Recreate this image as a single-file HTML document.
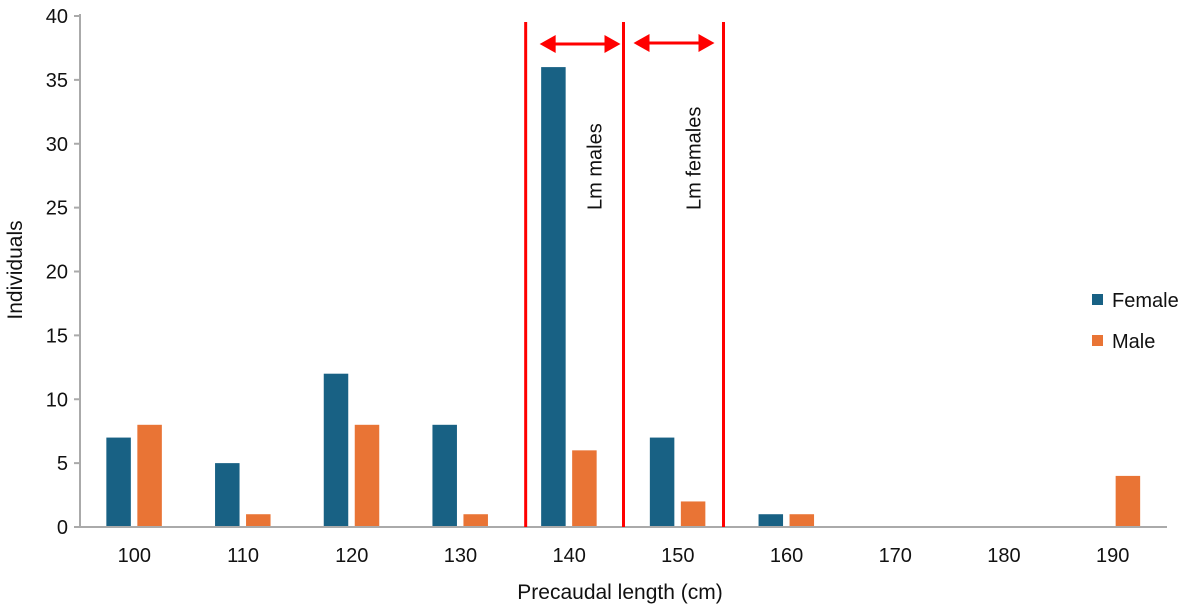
<!DOCTYPE html>
<html><head><meta charset="utf-8"><style>
body{margin:0;background:#fff;font-family:"Liberation Sans",Arial,sans-serif}
</style></head><body>
<svg id="c" width="1197" height="611" xmlns="http://www.w3.org/2000/svg" font-family="Liberation Sans, Arial, sans-serif"></svg>
<script>
const categories=["100","110","120","130","140","150","160","170","180","190"];
const female=[7,5,12,8,36,7,1,0,0,0];
const male=[8,1,8,1,6,2,1,0,0,4];
const yTicks=[0,5,10,15,20,25,30,35,40];
const lmLines=[136,145,154.2];
const svg=document.getElementById('c');
const NS='http://www.w3.org/2000/svg';
const x0=80,x1=1167,y0=527,y1=16,ymax=40;
const band=(x1-x0)/categories.length;
const xc=i=>x0+band*(i+0.5);
const yv=v=>y0-(y0-y1)*v/ymax;
const xv=v=>x0+band*((v-100)/10+0.5);
function el(t,a,txt){const e=document.createElementNS(NS,t);for(const k in a)e.setAttribute(k,a[k]);if(txt!==undefined)e.textContent=txt;svg.appendChild(e);return e;}
yTicks.forEach(v=>{
 const t=el('text',{x:68,y:yv(v)+7,'text-anchor':'end','font-size':20,fill:'#111'},v);
 
 
 const tk=el('line',{x1:74,x2:x0,y1:yv(v),y2:yv(v),stroke:'#aaa','stroke-width':2});
 
 
});
categories.forEach((c,i)=>{
 const t=el('text',{x:xc(i),y:562,'text-anchor':'middle','font-size':20,fill:'#111'},c);
 
 
 if(female[i]>0){const b=el('rect',{x:xc(i)-28,y:yv(female[i]),width:24.5,height:y0-yv(female[i]),fill:'#186184'});
 
 }
 if(male[i]>0){const b=el('rect',{x:xc(i)+3,y:yv(male[i]),width:24.5,height:y0-yv(male[i]),fill:'#e97435'});
 
 }
});
const ya=el('line',{x1:x0,x2:x0,y1:y1-2,y2:y0,stroke:'#aaa','stroke-width':2});


const xa=el('line',{x1:x0,x2:x1,y1:y0,y2:y0,stroke:'#aaa','stroke-width':2});


lmLines.forEach(v=>{const l=el('line',{x1:xv(v),x2:xv(v),y1:22,y2:527,stroke:'#f00','stroke-width':3});
 
 });
function arrow(a,b,y){
 const g=el('g',{});
 
 
 const l=document.createElementNS(NS,'line');
 [['x1',a+12],['x2',b-12],['y1',y],['y2',y],['stroke','#f00'],['stroke-width',3]].forEach(p=>l.setAttribute(p[0],p[1]));g.appendChild(l);
 [[a,1],[b,-1]].forEach(([x,d])=>{const p=document.createElementNS(NS,'polygon');
 p.setAttribute('points',`${x},${y} ${x+d*16},${y-9} ${x+d*16},${y+9}`);p.setAttribute('fill','#f00');g.appendChild(p);});
}
arrow(xv(lmLines[0])+14,xv(lmLines[1])-3,44);
arrow(xv(lmLines[1])+10,xv(lmLines[2])-9,43);
const t1=el('text',{x:0,y:0,'font-size':20,fill:'#111',transform:`translate(${(xv(lmLines[0])+xv(lmLines[1]))/2+27},210) rotate(-90)`},'Lm males');

const t2=el('text',{x:0,y:0,'font-size':20,fill:'#111',transform:`translate(${(xv(lmLines[1])+xv(lmLines[2]))/2+27},210) rotate(-90)`},'Lm females');

const yt=el('text',{x:0,y:0,'font-size':21,fill:'#111','text-anchor':'middle',transform:'translate(22,270) rotate(-90)'},'Individuals');

const xt=el('text',{x:620,y:599,'font-size':21,fill:'#111','text-anchor':'middle'},'Precaudal length (cm)');

[['Female','#186184',300],['Male','#e97435',341]].forEach(([n,c,y])=>{
 const r=el('rect',{x:1092,y:y-6,width:11,height:11,fill:c});
 
 const t=el('text',{x:1112,y:y+7,'font-size':20,fill:'#111'},n);
 
});
</script>
</body></html>
